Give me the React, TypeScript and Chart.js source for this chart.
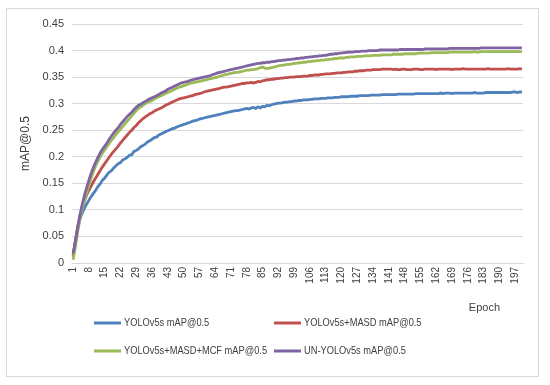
import React, { useEffect, useRef } from "react";
import { Chart, registerables } from "chart.js";

Chart.register(...registerables);

// ---------- data ----------
const epochs: string[] = Array.from({ length: 200 }, (_, i) => String(i + 1));

const xTickLabels = ["1", "8", "15", "22", "29", "36", "43", "50", "57", "64", "71", "78", "85", "92", "99", "106", "113", "120", "127", "134", "141", "148", "155", "162", "169", "176", "183", "190", "197"];

const yTickValues = [0, 0.05, 0.1, 0.15, 0.2, 0.25, 0.3, 0.35, 0.4, 0.45];

const seriesNames = [
  "YOLOv5s mAP@0.5",
  "YOLOv5s+MASD mAP@0.5",
  "YOLOv5s+MASD+MCF mAP@0.5",
  "UN-YOLOv5s mAP@0.5",
];

const seriesColors = ["#4F81BD", "#C0504D", "#9BBB59", "#8064A2"];

const yolov5s = [
  0.012, 0.040, 0.064, 0.082, 0.094, 0.103, 0.111, 0.118, 0.125, 0.131,
  0.137, 0.144, 0.149, 0.156, 0.160, 0.166, 0.171, 0.174, 0.179, 0.183,
  0.187, 0.189, 0.194, 0.196, 0.199, 0.203, 0.204, 0.210, 0.212, 0.215,
  0.219, 0.221, 0.224, 0.228, 0.230, 0.233, 0.236, 0.237, 0.241, 0.243,
  0.245, 0.247, 0.249, 0.251, 0.253, 0.254, 0.256, 0.258, 0.259, 0.261,
  0.262, 0.264, 0.265, 0.267, 0.268, 0.269, 0.271, 0.272, 0.273, 0.274,
  0.275, 0.276, 0.277, 0.278, 0.279, 0.280, 0.281, 0.282, 0.283, 0.284,
  0.285, 0.286, 0.287, 0.287, 0.288, 0.289, 0.290, 0.291, 0.290, 0.292,
  0.293, 0.291, 0.294, 0.292, 0.295, 0.294, 0.297, 0.296, 0.298, 0.299,
  0.300, 0.301, 0.301, 0.302, 0.303, 0.303, 0.304, 0.304, 0.305, 0.305,
  0.306, 0.306, 0.307, 0.307, 0.307, 0.308, 0.308, 0.309, 0.309, 0.309,
  0.310, 0.310, 0.310, 0.311, 0.311, 0.311, 0.312, 0.312, 0.312, 0.313,
  0.313, 0.313, 0.313, 0.314, 0.314, 0.314, 0.314, 0.315, 0.315, 0.315,
  0.315, 0.315, 0.316, 0.316, 0.316, 0.316, 0.316, 0.317, 0.317, 0.317,
  0.317, 0.317, 0.317, 0.317, 0.318, 0.318, 0.318, 0.318, 0.318, 0.318,
  0.318, 0.318, 0.319, 0.319, 0.319, 0.319, 0.319, 0.319, 0.319, 0.319,
  0.319, 0.319, 0.319, 0.320, 0.319, 0.320, 0.320, 0.320, 0.319, 0.320,
  0.320, 0.320, 0.320, 0.320, 0.320, 0.320, 0.320, 0.320, 0.321, 0.320,
  0.320, 0.320, 0.320, 0.321, 0.321, 0.321, 0.321, 0.321, 0.321, 0.321,
  0.321, 0.321, 0.321, 0.321, 0.321, 0.322, 0.322, 0.321, 0.322, 0.322,
];

const yolov5sMasd = [
  0.015, 0.042, 0.068, 0.088, 0.104, 0.117, 0.128, 0.137, 0.145, 0.153,
  0.160, 0.167, 0.174, 0.181, 0.187, 0.193, 0.199, 0.205, 0.210, 0.215,
  0.220, 0.226, 0.231, 0.236, 0.241, 0.246, 0.250, 0.255, 0.259, 0.264,
  0.268, 0.272, 0.275, 0.278, 0.281, 0.283, 0.286, 0.288, 0.290, 0.292,
  0.294, 0.297, 0.299, 0.301, 0.303, 0.305, 0.307, 0.309, 0.310, 0.311,
  0.312, 0.313, 0.314, 0.315, 0.317, 0.318, 0.319, 0.320, 0.322, 0.323,
  0.324, 0.325, 0.326, 0.327, 0.328, 0.329, 0.330, 0.331, 0.331, 0.332,
  0.333, 0.334, 0.335, 0.336, 0.337, 0.338, 0.338, 0.339, 0.339, 0.340,
  0.339, 0.340, 0.342, 0.341, 0.343, 0.344, 0.345, 0.345, 0.346, 0.346,
  0.347, 0.347, 0.348, 0.348, 0.349, 0.349, 0.350, 0.350, 0.350, 0.351,
  0.351, 0.351, 0.352, 0.352, 0.352, 0.353, 0.353, 0.354, 0.354, 0.354,
  0.355, 0.355, 0.356, 0.356, 0.356, 0.357, 0.357, 0.358, 0.358, 0.358,
  0.359, 0.359, 0.360, 0.360, 0.360, 0.361, 0.361, 0.362, 0.362, 0.362,
  0.363, 0.363, 0.363, 0.364, 0.364, 0.364, 0.364, 0.365, 0.365, 0.365,
  0.365, 0.365, 0.364, 0.365, 0.364, 0.364, 0.365, 0.365, 0.364, 0.364,
  0.364, 0.365, 0.365, 0.365, 0.364, 0.364, 0.365, 0.365, 0.365, 0.365,
  0.365, 0.364, 0.365, 0.365, 0.365, 0.365, 0.365, 0.365, 0.364, 0.365,
  0.365, 0.365, 0.365, 0.366, 0.365, 0.365, 0.365, 0.365, 0.365, 0.365,
  0.365, 0.365, 0.365, 0.365, 0.366, 0.365, 0.365, 0.365, 0.365, 0.365,
  0.365, 0.365, 0.365, 0.366, 0.365, 0.365, 0.365, 0.365, 0.366, 0.365,
];

const yolov5sMasdMcf = [
  0.006, 0.030, 0.058, 0.083, 0.102, 0.118, 0.132, 0.146, 0.160, 0.172,
  0.183, 0.192, 0.200, 0.207, 0.213, 0.219, 0.225, 0.231, 0.236, 0.242,
  0.247, 0.252, 0.257, 0.262, 0.267, 0.272, 0.277, 0.282, 0.287, 0.291,
  0.294, 0.297, 0.300, 0.302, 0.304, 0.306, 0.309, 0.311, 0.313, 0.315,
  0.317, 0.319, 0.321, 0.323, 0.325, 0.327, 0.329, 0.331, 0.332, 0.334,
  0.335, 0.337, 0.338, 0.339, 0.340, 0.341, 0.342, 0.343, 0.344, 0.345,
  0.346, 0.347, 0.348, 0.349, 0.350, 0.352, 0.353, 0.354, 0.355, 0.356,
  0.357, 0.358, 0.359, 0.359, 0.360, 0.361, 0.362, 0.363, 0.363, 0.364,
  0.364, 0.365, 0.366, 0.368, 0.369, 0.367, 0.366, 0.367, 0.368, 0.369,
  0.370, 0.371, 0.372, 0.372, 0.373, 0.374, 0.374, 0.375, 0.376, 0.376,
  0.377, 0.377, 0.378, 0.378, 0.379, 0.379, 0.380, 0.380, 0.381, 0.381,
  0.382, 0.382, 0.383, 0.383, 0.384, 0.384, 0.385, 0.385, 0.386, 0.386,
  0.386, 0.387, 0.387, 0.388, 0.388, 0.388, 0.389, 0.389, 0.389, 0.390,
  0.390, 0.390, 0.390, 0.391, 0.391, 0.391, 0.391, 0.392, 0.392, 0.392,
  0.392, 0.392, 0.393, 0.393, 0.393, 0.393, 0.393, 0.394, 0.394, 0.394,
  0.394, 0.394, 0.394, 0.395, 0.395, 0.395, 0.395, 0.395, 0.395, 0.396,
  0.396, 0.396, 0.396, 0.396, 0.396, 0.396, 0.396, 0.397, 0.397, 0.397,
  0.397, 0.397, 0.397, 0.397, 0.397, 0.397, 0.397, 0.397, 0.398, 0.397,
  0.397, 0.398, 0.398, 0.398, 0.398, 0.398, 0.398, 0.398, 0.398, 0.398,
  0.398, 0.398, 0.398, 0.398, 0.398, 0.398, 0.398, 0.398, 0.398, 0.398,
];

const unYolov5s = [
  0.018, 0.040, 0.066, 0.090, 0.110, 0.127, 0.142, 0.156, 0.169, 0.180,
  0.190, 0.199, 0.207, 0.214, 0.220, 0.226, 0.233, 0.239, 0.245, 0.250,
  0.255, 0.261, 0.266, 0.271, 0.276, 0.280, 0.284, 0.289, 0.293, 0.297,
  0.299, 0.302, 0.304, 0.307, 0.309, 0.311, 0.313, 0.315, 0.317, 0.320,
  0.322, 0.324, 0.327, 0.329, 0.331, 0.333, 0.335, 0.337, 0.339, 0.340,
  0.341, 0.342, 0.344, 0.345, 0.346, 0.347, 0.348, 0.349, 0.350, 0.351,
  0.352, 0.353, 0.355, 0.356, 0.358, 0.359, 0.360, 0.361, 0.362, 0.363,
  0.364, 0.365, 0.366, 0.367, 0.368, 0.369, 0.370, 0.371, 0.372, 0.373,
  0.374, 0.375, 0.376, 0.376, 0.377, 0.377, 0.378, 0.378, 0.379, 0.379,
  0.380, 0.381, 0.381, 0.382, 0.382, 0.383, 0.383, 0.384, 0.384, 0.385,
  0.385, 0.386, 0.386, 0.387, 0.387, 0.388, 0.388, 0.389, 0.389, 0.390,
  0.390, 0.391, 0.391, 0.392, 0.393, 0.393, 0.394, 0.394, 0.395, 0.395,
  0.396, 0.396, 0.397, 0.397, 0.397, 0.398, 0.398, 0.398, 0.399, 0.399,
  0.399, 0.400, 0.400, 0.400, 0.400, 0.400, 0.401, 0.401, 0.401, 0.401,
  0.401, 0.401, 0.401, 0.401, 0.401, 0.402, 0.402, 0.402, 0.402, 0.402,
  0.402, 0.402, 0.402, 0.402, 0.402, 0.402, 0.403, 0.403, 0.403, 0.403,
  0.403, 0.403, 0.403, 0.403, 0.403, 0.403, 0.403, 0.404, 0.404, 0.404,
  0.404, 0.404, 0.404, 0.404, 0.404, 0.404, 0.404, 0.404, 0.404, 0.404,
  0.404, 0.405, 0.405, 0.405, 0.405, 0.405, 0.405, 0.405, 0.405, 0.405,
  0.405, 0.405, 0.405, 0.405, 0.405, 0.405, 0.405, 0.405, 0.405, 0.405,
];

const seriesData = [yolov5s, yolov5sMasd, yolov5sMasdMcf, unYolov5s];

const xAxisTitle = "Epoch";
const yAxisTitle = "mAP@0.5";

const TEXT = "#404040";
const FONT = "'Liberation Sans', Arial, sans-serif";
// the original uses a narrow (Calibri-like) face; condense Liberation Sans to match
const CONDENSE = 0.86;

// ---------- decoration plugin (frame, axis title, legend) ----------
const decorPlugin = {
  id: "decor",
  beforeDraw(chart: any) {
    const ctx = chart.ctx;
    ctx.save();
    ctx.fillStyle = "#ffffff";
    ctx.fillRect(0, 0, chart.width, chart.height);
    ctx.strokeStyle = "#d9d9d9";
    ctx.lineWidth = 1;
    ctx.strokeRect(6.5, 8.5, 532, 368);
    ctx.restore();
  },
  afterDraw(chart: any) {
    const ctx = chart.ctx;
    const area = chart.chartArea;
    ctx.save();
    ctx.fillStyle = TEXT;
    ctx.font = `11px ${FONT}`;
    ctx.textAlign = "right";
    ctx.textBaseline = "middle";
    ctx.fillText(xAxisTitle, area.right - 23, 308);

    // legend, two columns
    const colX = [94, 274];
    const rowY = [323, 351];
    ctx.font = `10.8px ${FONT}`;
    ctx.textAlign = "left";
    seriesNames.forEach((name, i) => {
      const x = colX[i % 2];
      const y = rowY[Math.floor(i / 2)];
      ctx.strokeStyle = seriesColors[i];
      ctx.lineWidth = 3;
      ctx.beginPath();
      ctx.moveTo(x, y);
      ctx.lineTo(x + 27, y);
      ctx.stroke();
      ctx.fillStyle = TEXT;
      const w = ctx.measureText(name).width * CONDENSE;
      ctx.fillText(name, x + 30, y + 0.5, w);
    });
    ctx.restore();
  },
};

export default function App() {
  const ref = useRef<HTMLCanvasElement | null>(null);

  useEffect(() => {
    if (!ref.current) return;
    const chart = new Chart(ref.current, {
      type: "line",
      data: {
        labels: epochs,
        datasets: seriesNames.map((name, i) => ({
          label: name,
          data: seriesData[i],
          borderColor: seriesColors[i],
          backgroundColor: seriesColors[i],
          borderWidth: 2.8,
          pointRadius: 0,
          tension: 0,
          fill: false,
          order: 3 - i,
        })),
      },
      options: {
        animation: false,
        responsive: false,
        maintainAspectRatio: false,
        devicePixelRatio: 1,
        layout: { padding: { left: 14, top: 24, right: 27, bottom: 82 } },
        plugins: {
          legend: { display: false },
          tooltip: { enabled: false },
        },
        scales: {
          x: {
            type: "category",
            offset: true,
            grid: { display: false, drawTicks: false },
            border: { display: true, color: "#d9d9d9", width: 1 },
            ticks: {
              autoSkip: false,
              maxRotation: 90,
              minRotation: 90,
              padding: 4,
              color: TEXT,
              font: { family: FONT, size: 10 },
              callback: function (this: any, v: any) {
                const l = this.getLabelForValue(v);
                return xTickLabels.includes(l) ? l : "";
              },
            },
            afterFit: (s: any) => {
              s.height = 40;
            },
          },
          y: {
            min: 0,
            max: 0.45,
            afterBuildTicks: (s: any) => {
              s.ticks = yTickValues.map((v) => ({ value: v }));
            },
            ticks: {
              padding: 8,
              color: TEXT,
              font: { family: FONT, size: 11 },
              callback: (v: any) => String(Number(Number(v).toFixed(2))),
            },
            grid: { color: "#d9d9d9", drawTicks: false },
            border: { display: false },
            title: {
              display: true,
              text: yAxisTitle,
              color: TEXT,
              font: { family: FONT, size: 12 },
              padding: { top: 4, bottom: 0 },
            },
            afterFit: (s: any) => {
              s.width = 58;
            },
          },
        },
      },
      plugins: [decorPlugin],
    });
    return () => chart.destroy();
  }, []);

  return (
    <div style={{ position: "fixed", left: 0, top: 0, width: 550, height: 385, background: "#fff" }}>
      <canvas ref={ref} width={550} height={385} style={{ display: "block" }} />
    </div>
  );
}
